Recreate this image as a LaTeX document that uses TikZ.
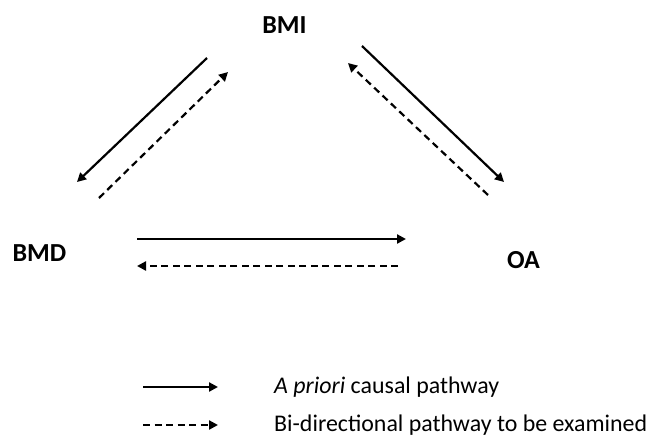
\documentclass[tikz,border=0pt]{standalone}
\usepackage{fontspec}
\setmainfont{Carlito}
\usetikzlibrary{arrows.meta}
\begin{document}
\begin{tikzpicture}[x=1pt,y=-1pt,
  lbl/.style={font=\fontsize{26}{30}\selectfont\bfseries, inner sep=0pt},
  leg/.style={font=\fontsize{23.9}{28}\selectfont, inner sep=0pt, anchor=west},
  causal/.style={line width=2.2pt, -{Triangle[length=9pt,width=9pt]}},
  bidir/.style={line width=2.2pt, dash pattern=on 7pt off 4.5pt, -{Triangle[length=9pt,width=9pt]}}]
\useasboundingbox (0,0) rectangle (649,437);
\node[lbl] (bmi) at (284.5,25) {BMI};
\node[lbl] (bmd) at (39.5,253.5) {BMD};
\node[lbl] (oa) at (523.5,260.5) {OA};
% endpoints
\coordinate (a1) at (207,58);  \coordinate (a2) at (77,182);
\coordinate (b1) at (99,198);  \coordinate (b2) at (228,72);
\coordinate (c1) at (362,46);  \coordinate (c2) at (504,182);
\coordinate (d1) at (488,195); \coordinate (d2) at (348,63);
\coordinate (e1) at (137,239); \coordinate (e2) at (406,239);
\coordinate (f1) at (398,266); \coordinate (f2) at (137,266);
\draw[causal] (a1) -- (a2);
\draw[bidir] (b1) -- (b2);
\draw[causal] (c1) -- (c2);
\draw[bidir] (d1) -- (d2);
\draw[causal] (e1) -- (e2);
\draw[bidir] (f1) -- (f2);
% legend
\coordinate (l1a) at (143,387); \coordinate (l1b) at (218,387);
\coordinate (l2a) at (143,425); \coordinate (l2b) at (218,425);
\draw[causal] (l1a) -- (l1b);
\draw[bidir] (l2a) -- (l2b);
\node[leg] (t1) at (274,387) {\textit{A priori} causal pathway};
\node[leg] (t2) at (274,425) {Bi-directional pathway to be examined};
\end{tikzpicture}
\end{document}
